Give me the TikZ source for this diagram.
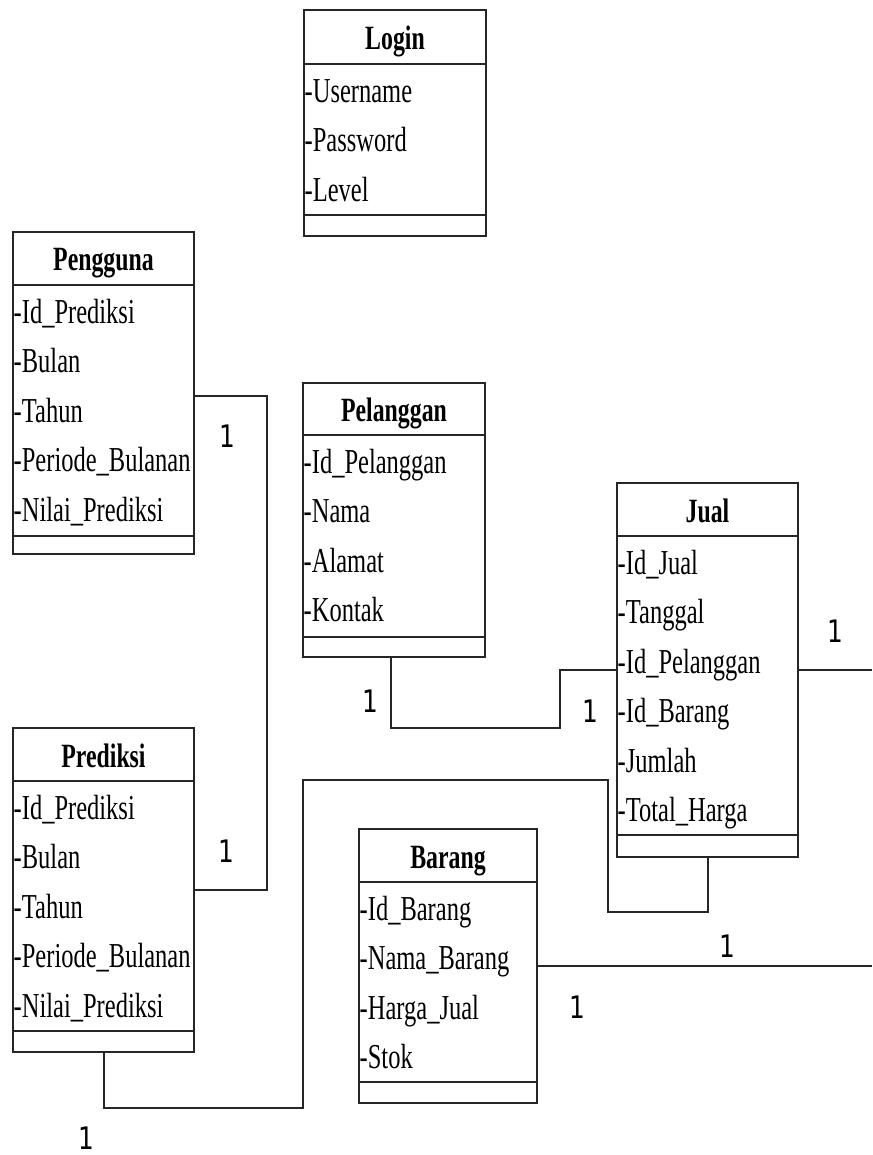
\documentclass[tikz,border=0pt]{standalone}
\usepackage{fontspec}
\setmainfont[FakeStretch=0.7]{Liberation Serif}
\newfontfamily\multfont[FakeStretch=0.8]{DejaVu Sans}
\usetikzlibrary{calc}

\tikzset{
  classbox/.style={draw=black!85, line width=1.2pt, inner sep=0pt, outer sep=0pt},
  boxline/.style={draw=black!85, line width=1.2pt},
  conn/.style={draw=black!85, line width=1.2pt},
  titletext/.style={anchor=base, inner sep=0pt, font=\fontsize{34}{40}\selectfont\bfseries},
  attrtext/.style={anchor=base west, inner sep=0pt, font=\fontsize{35}{40}\selectfont},
  mult/.style={anchor=base, inner sep=0pt, font=\multfont\fontsize{31}{36}\selectfont},
}

% #1 name, #2 left, #3 top, #4 right, #5 title rule, #6 operations rule, #7 bottom,
% #8 class name, #9 attribute list
\newcommand\umlclass[9]{%
  \node[classbox, anchor=north west,
        minimum width={(#4-#2)*1pt}, minimum height={(#7-#3)*1pt}] (#1) at (#2,#3) {};
  \draw[boxline] (#1.west |- 0,#5) -- (#1.east |- 0,#5)
                 (#1.west |- 0,#6) -- (#1.east |- 0,#6);
  \node[titletext] (#1-title) at ({(#2+#4)/2},{#5-14}) {#8};
  \foreach \a [count=\i] in {#9}
    \node[attrtext] (#1-attr\i) at ({#2+0.5},{#5+38.5+49.4*(\i-1)}) {\a};
}

\begin{document}
\begin{tikzpicture}[x=1pt, y=-1pt]
  \useasboundingbox (0,0) rectangle (872,1155);

  \umlclass{login}{304}{10}{486}{64}{215}{236}{Login}
    {-Username,-Password,-Level}
  \umlclass{pengguna}{13}{232}{194}{285}{536}{554}{Pengguna}
    {-Id\_Prediksi,-Bulan,-Tahun,-Periode\_Bulanan,-Nilai\_Prediksi}
  \umlclass{pelanggan}{303}{383}{485}{435}{637}{657}{Pelanggan}
    {-Id\_Pelanggan,-Nama,-Alamat,-Kontak}
  \umlclass{jual}{617}{483}{798}{536}{835}{857}{Jual}
    {-Id\_Jual,-Tanggal,-Id\_Pelanggan,-Id\_Barang,-Jumlah,-Total\_Harga}
  \umlclass{prediksi}{13}{728}{194}{781}{1031}{1052}{Prediksi}
    {-Id\_Prediksi,-Bulan,-Tahun,-Periode\_Bulanan,-Nilai\_Prediksi}
  \umlclass{barang}{359}{829}{537}{882}{1082}{1103}{Barang}
    {-Id\_Barang,-Nama\_Barang,-Harga\_Jual,-Stok}

  % free ends running off the right edge
  \coordinate (jual-out) at (872,670);
  \coordinate (barang-out) at (872,966);

  % associations
  \draw[conn] (pengguna.east |- 0,396) -- (267,396) -- (267,890)
              -- (prediksi.east |- 0,890);
  \draw[conn] (pelanggan.south -| 391,0) -- (391,728) -- (560,728) -- (560,670)
              -- (jual.west |- 0,670);
  \draw[conn] (prediksi.south -| 104,0) -- (104,1108) -- (303,1108) -- (303,780)
              -- (608,780) -- (608,912) -- (708,912) -- (jual.south -| 708,0);
  \draw[conn] (jual.east |- jual-out) -- (jual-out);
  \draw[conn] (barang.east |- barang-out) -- (barang-out);

  % multiplicities
  \node[mult] (m1) at (227,447) {1};
  \node[mult] (m2) at (226,862) {1};
  \node[mult] (m3) at (370,712) {1};
  \node[mult] (m4) at (590,722) {1};
  \node[mult] (m5) at (835,642) {1};
  \node[mult] (m6) at (727,957) {1};
  \node[mult] (m7) at (577,1018) {1};
  \node[mult] (m8) at (86,1149) {1};
\end{tikzpicture}
\end{document}
